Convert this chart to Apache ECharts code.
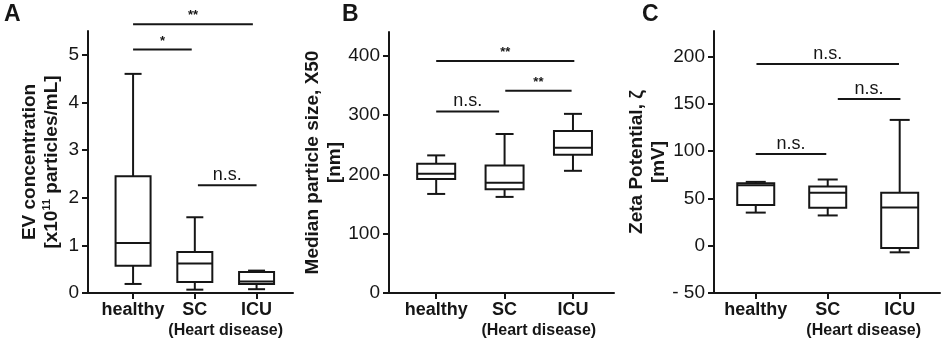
<!DOCTYPE html>
<html>
<head>
<meta charset="utf-8">
<script src="https://cdn.jsdelivr.net/npm/echarts@6/dist/echarts.min.js"></script>
<style>
  html, body { margin: 0; padding: 0; background: #fff; }
  #chart { width: 945px; height: 345px; }
</style>
</head>
<body>
<div id="chart"></div>
<script>
const groups = ['healthy', 'SC', 'ICU'];

// box values per group: [min, q1, median, q3, max]
const evConc = [[0.19, 0.57, 1.05, 2.45, 4.6], [0.07, 0.23, 0.62, 0.86, 1.59], [0.08, 0.19, 0.24, 0.44, 0.47]];
const sizeX50 = [[167, 192, 201, 218, 232], [162, 175, 186, 215, 268], [206, 233, 245, 273, 302]];
const zeta = [[35, 43, 64, 66, 67.5], [32, 40, 56, 62.5, 70], [-7, -2.5, 40.5, 56, 133]];

// significance brackets: [from group, to group, height, label]
const evSig = [[0, 0.95, 5.11, '*'], [0, 1.94, 5.64, '**'], [1.05, 2, 2.26, 'n.s.']];
const sizeSig = [[0, 0.92, 306, 'n.s.'], [1.01, 1.98, 341, '**'], [0, 2.02, 391, '**']];
const zetaSig = [[0, 0.98, 97, 'n.s.'], [1.14, 2.01, 155, 'n.s.'], [0.01, 1.99, 192, 'n.s.']];

const ticksA = [0, 1, 2, 3, 4, 5];
const ticksB = [0, 100, 200, 300, 400];
const ticksC = [-50, 0, 50, 100, 150, 200];

const ink = '#161616';
const fontFamily = '"Liberation Sans", Arial, sans-serif';

const panels = [
  {
    letter: 'A', letterX: 4, boxes: evConc, sig: evSig, ticks: ticksA,
    grid: { left: 88, top: 31, width: 205, height: 262 },
    xMin: -0.73, xMax: 2.59, yMin: 0, yMax: 5.5, boxW: 35, capW: 17,
    name: '{t|EV concentration}\n{t|[x10}{s|11}{t| particles/mL]}', nameGap: 25
  },
  {
    letter: 'B', letterX: 342, boxes: sizeX50, sig: sizeSig, ticks: ticksB,
    grid: { left: 389, top: 32, width: 225, height: 261 },
    xMin: -0.69, xMax: 2.6, yMin: 0, yMax: 440, boxW: 38, capW: 18,
    name: '{t|Median particle size, X50}\n{t|[nm]}', nameGap: 38
  },
  {
    letter: 'C', letterX: 642, boxes: zeta, sig: zetaSig, ticks: ticksC,
    grid: { left: 714, top: 31, width: 226, height: 262 },
    xMin: -0.58, xMax: 2.56, yMin: -50, yMax: 227, boxW: 37, capW: 20,
    name: '{t|Zeta Potential, ζ}\n{t|[mV]}', nameGap: 36
  }
];

function boxRenderer(boxW, capW) {
  return function (params, api) {
    const x = api.value(0);
    const p = [1, 2, 3, 4, 5].map(i => api.coord([x, api.value(i)]));
    const cx = p[0][0];
    const st = { stroke: ink, lineWidth: 2, fill: null };
    const hline = (y, w) => ({ type: 'line', shape: { x1: cx - w / 2, y1: y, x2: cx + w / 2, y2: y }, style: st });
    return {
      type: 'group',
      children: [
        { type: 'line', shape: { x1: cx, y1: p[0][1], x2: cx, y2: p[1][1] }, style: st },
        { type: 'line', shape: { x1: cx, y1: p[3][1], x2: cx, y2: p[4][1] }, style: st },
        hline(p[0][1], capW),
        hline(p[4][1], capW),
        { type: 'rect', shape: { x: cx - boxW / 2, y: p[3][1], width: boxW, height: p[1][1] - p[3][1] }, style: { stroke: ink, lineWidth: 2, fill: '#fff' } },
        hline(p[2][1], boxW)
      ]
    };
  };
}

function sigRenderer(sig) {
  return function (params, api) {
    const a = api.coord([api.value(0), api.value(2)]);
    const b = api.coord([api.value(1), api.value(2)]);
    const label = sig[params.dataIndex][3];
    const stars = label.indexOf('*') === 0;
    return {
      type: 'group',
      children: [
        { type: 'line', shape: { x1: a[0], y1: a[1], x2: b[0], y2: b[1] }, style: { stroke: ink, lineWidth: 2 } },
        {
          type: 'text',
          style: {
            text: label, x: (a[0] + b[0]) / 2, y: a[1] - (stars ? 2 : 1),
            align: 'center', verticalAlign: 'bottom',
            font: (stars ? 'bold 13px ' : '18px ') + fontFamily, fill: ink
          }
        }
      ]
    };
  };
}

function noteRenderer(params, api) {
  const p = api.coord([api.value(0), api.value(1)]);
  return {
    type: 'text',
    style: {
      text: '(Heart disease)', x: p[0], y: p[1] + 38,
      align: 'center', verticalAlign: 'middle',
      font: 'bold 16px ' + fontFamily, fill: ink
    }
  };
}

const grid = [], xAxis = [], yAxis = [], series = [], graphic = [];

panels.forEach((pn, k) => {
  grid.push(pn.grid);
  xAxis.push({
    type: 'value', gridIndex: k, min: pn.xMin, max: pn.xMax,
    splitLine: { show: false },
    axisLine: { onZero: false, lineStyle: { color: ink, width: 2 } },
    axisTick: { customValues: [0, 1, 2], length: 6, lineStyle: { color: ink, width: 2 } },
    axisLabel: {
      customValues: [0, 1, 2], formatter: v => groups[v], margin: 8,
      color: ink, fontFamily, fontWeight: 'bold', fontSize: 18
    }
  });
  yAxis.push({
    type: 'value', gridIndex: k, min: pn.yMin, max: pn.yMax,
    splitLine: { show: false },
    axisLine: { show: true, onZero: false, lineStyle: { color: ink, width: 2 } },
    axisTick: { show: true, customValues: pn.ticks, length: 6, lineStyle: { color: ink, width: 2 } },
    axisLabel: {
      customValues: pn.ticks, margin: 9, color: ink, fontFamily, fontSize: 19,
      formatter: v => (v < 0 ? '- ' + Math.abs(v) : String(v))
    },
    name: pn.name, nameLocation: 'middle', nameRotate: 90, nameGap: pn.nameGap,
    nameTextStyle: {
      rich: {
        t: { fontFamily, fontWeight: 'bold', fontSize: 19, color: ink, lineHeight: 22 },
        s: { fontFamily, fontWeight: 'bold', fontSize: 11, color: ink, lineHeight: 12, verticalAlign: 'top' }
      }
    }
  });
  series.push({
    type: 'custom', xAxisIndex: k, yAxisIndex: k, clip: false,
    data: pn.boxes.map((b, i) => [i].concat(b)),
    encode: { x: 0, y: [1, 2, 3, 4, 5] },
    renderItem: boxRenderer(pn.boxW, pn.capW)
  });
  series.push({
    type: 'custom', xAxisIndex: k, yAxisIndex: k, clip: false,
    data: pn.sig.map(s => [s[0], s[1], s[2]]),
    encode: { x: [0, 1], y: 2 },
    renderItem: sigRenderer(pn.sig)
  });
  series.push({
    type: 'custom', xAxisIndex: k, yAxisIndex: k, clip: false,
    data: [[1.5, pn.yMin]],
    encode: { x: 0, y: 1 },
    renderItem: noteRenderer
  });
  graphic.push({
    type: 'text', left: pn.letterX, top: 3,
    style: { text: pn.letter, font: 'bold 23px ' + fontFamily, fill: ink }
  });
});

const chart = echarts.init(document.getElementById('chart'));
chart.setOption({
  animation: false,
  backgroundColor: '#fff',
  grid, xAxis, yAxis, series, graphic
});
</script>
</body>
</html>
